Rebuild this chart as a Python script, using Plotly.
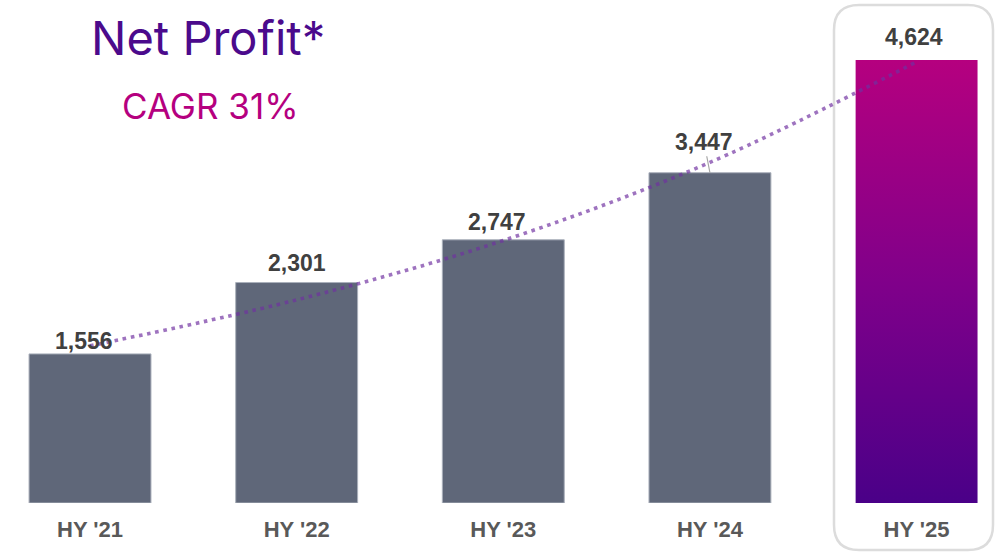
import plotly.graph_objects as go

categories = ["HY '21", "HY '22", "HY '23", "HY '24", "HY '25"]
net_profit = [1556, 2301, 2747, 3447, 4624]
# exponential trend line values
trend = [1640, 2120, 2740, 3555, 4605]

W, H = 998, 556
MB = 53
PH = H - MB
X0 = -0.4356
X1 = 4.394
YMAX = 5250
BW = 0.59

bar_color = "#5f6779"
fig = go.Figure()

xs = list(range(len(categories)))

# regular bars (first four)
fig.add_trace(go.Bar(
    x=xs[:-1], y=net_profit[:-1], width=BW,
    marker=dict(color=bar_color, line=dict(color="#aab0bb", width=1)),
    hoverinfo="skip", showlegend=False,
))

# highlighted bar with gradient
i5 = xs[-1]
v5 = net_profit[-1]
fig.add_trace(go.Scatter(
    x=[i5 - BW / 2, i5 + BW / 2, i5 + BW / 2, i5 - BW / 2, i5 - BW / 2],
    y=[0, 0, v5, v5, 0],
    mode="lines", line=dict(width=0, color="rgba(0,0,0,0)"),
    fill="toself",
    fillgradient=dict(type="vertical", start=0, stop=v5,
                      colorscale=[[0, "#4a0088"], [0.5, "#80008a"], [1, "#b5007f"]]),
    hoverinfo="skip", showlegend=False,
))

# trend line
fig.add_trace(go.Scatter(
    x=xs, y=trend, mode="lines", line_shape="spline",
    line=dict(color="rgba(112,48,160,0.68)", width=3.6, dash="3.6px,4.7px"),
    hoverinfo="skip", showlegend=False,
))

# value labels
VAL_FONT = dict(family="Liberation Sans, Arial", size=23, color="#404040")
label_xshift = [-6, 0, -6, 0, -3]
label_yshift = [13, 20, 18, 31, 23]
for i, v in enumerate(net_profit):
    if i == 3:
        fig.add_annotation(x=xs[i], y=v, text=f"<b>{v:,}</b>", showarrow=True,
                           ax=-6, ay=-31, arrowhead=0, arrowwidth=1.2,
                           arrowcolor="#a6a6a6", standoff=0, startstandoff=0,
                           font=VAL_FONT)
    else:
        fig.add_annotation(x=xs[i], y=v, text=f"<b>{v:,}</b>", showarrow=False,
                           xshift=label_xshift[i], yshift=label_yshift[i],
                           yanchor="middle", font=VAL_FONT)

# titles
fig.add_annotation(xref="paper", yref="paper", x=89 / W, y=(PH - 38) / PH,
                   xanchor="left", yanchor="middle", showarrow=False,
                   text="Net Profit*",
                   font=dict(family="Inter, Lato, sans-serif", size=47, color="#4b0a8c"))
fig.add_annotation(xref="paper", yref="paper", x=120 / W, y=(PH - 106) / PH,
                   xanchor="left", yanchor="middle", showarrow=False,
                   text="CAGR 31%",
                   font=dict(family="Inter, Lato, sans-serif", size=35, color="#b5007f"))

# rounded highlight box
bx0, bx1, by0, by1 = 834, 993, 5, 550
r = 25
def px(x):
    return x / W
def py(y):
    return (PH - y) / PH
path = (
    f"M {px(bx0 + r)},{py(by0)} L {px(bx1 - r)},{py(by0)} "
    f"Q {px(bx1)},{py(by0)} {px(bx1)},{py(by0 + r)} "
    f"L {px(bx1)},{py(by1 - r)} "
    f"Q {px(bx1)},{py(by1)} {px(bx1 - r)},{py(by1)} "
    f"L {px(bx0 + r)},{py(by1)} "
    f"Q {px(bx0)},{py(by1)} {px(bx0)},{py(by1 - r)} "
    f"L {px(bx0)},{py(by0 + r)} "
    f"Q {px(bx0)},{py(by0)} {px(bx0 + r)},{py(by0)} Z"
)
fig.add_shape(type="path", xref="paper", yref="paper", path=path,
              line=dict(color="#dcdcdc", width=2.5), layer="below")

fig.update_layout(
    width=W, height=H,
    margin=dict(l=0, r=0, t=0, b=MB),
    plot_bgcolor="white", paper_bgcolor="white",
    xaxis=dict(range=[X0, X1], tickmode="array", tickvals=xs,
               ticktext=[f"<b>{c}</b>" for c in categories],
               showgrid=False, zeroline=False, showline=False, ticks="",
               ticklabelstandoff=11,
               tickfont=dict(family="Liberation Sans, Arial", size=22, color="#595959"),
               fixedrange=True),
    yaxis=dict(range=[0, YMAX], visible=False, fixedrange=True),
    showlegend=False,
)

fig.write_html("out.html", config={"displayModeBar": False},
               post_script="document.body.style.margin='0px';")
